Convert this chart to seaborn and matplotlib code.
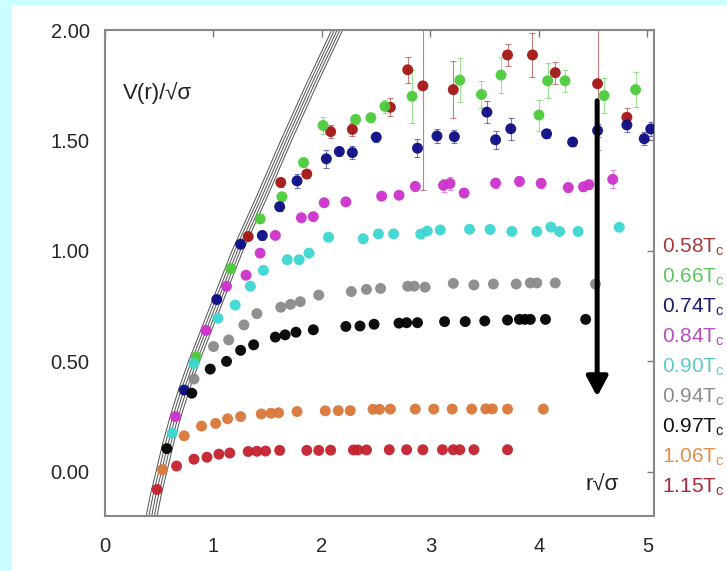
import matplotlib
matplotlib.use("Agg")
import matplotlib.pyplot as plt
from matplotlib.patches import Rectangle
import numpy as np
import pandas as pd
import seaborn as sns

# ---------------- data ----------------
temps = ["0.58", "0.66", "0.74", "0.84", "0.90", "0.94", "0.97", "1.06", "1.15"]

r_058 = [1.32, 1.62, 1.86, 2.08, 2.28, 2.63, 2.79, 2.93, 3.21, 3.71, 3.94, 4.15, 4.54, 4.81]
v_058 = [1.065, 1.31, 1.348, 1.54, 1.55, 1.65, 1.82, 1.747, 1.73, 1.887, 1.887, 1.807, 1.757, 1.605]
e_058 = [0.01, 0.02, 0.02, 0.03, 0.03, 0.04, 0.06, 0.47, 0.13, 0.05, 0.10, 0.05, 0.30, 0.04]

r_066 = [0.84, 1.16, 1.43, 1.63, 1.83, 2.01, 2.31, 2.45, 2.58, 2.83, 3.27, 3.47, 3.65, 4.00, 4.08, 4.24, 4.60, 4.89]
v_066 = [0.52, 0.92, 1.145, 1.245, 1.40, 1.568, 1.595, 1.603, 1.654, 1.70, 1.773, 1.708, 1.796, 1.615, 1.77, 1.77, 1.703, 1.73]
e_066 = [0.01, 0.01, 0.02, 0.02, 0.02, 0.04, 0.02, 0.02, 0.03, 0.12, 0.10, 0.06, 0.08, 0.07, 0.08, 0.05, 0.08, 0.08]

r_074 = [0.73, 1.03, 1.25, 1.45, 1.61, 1.77, 2.04, 2.16, 2.28, 2.50, 2.88, 3.06, 3.22, 3.52, 3.60, 3.74, 4.07, 4.31, 4.54, 4.81, 4.97, 5.03]
v_074 = [0.37, 0.78, 1.03, 1.07, 1.20, 1.317, 1.417, 1.45, 1.445, 1.515, 1.465, 1.52, 1.517, 1.628, 1.503, 1.553, 1.53, 1.493, 1.545, 1.57, 1.508, 1.552]
e_074 = [0.01, 0.01, 0.01, 0.02, 0.02, 0.03, 0.04, 0.02, 0.03, 0.02, 0.04, 0.03, 0.03, 0.05, 0.04, 0.05, 0.02, 0.02, 0.03, 0.03, 0.03, 0.03]

r_084 = [0.65, 0.93, 1.12, 1.30, 1.43, 1.57, 1.81, 1.92, 2.02, 2.22, 2.55, 2.71, 2.86, 3.12, 3.18, 3.31, 3.60, 3.82, 4.02, 4.27, 4.41, 4.46, 4.68]
v_084 = [0.25, 0.64, 0.84, 0.89, 0.99, 1.07, 1.15, 1.155, 1.218, 1.222, 1.248, 1.252, 1.292, 1.297, 1.305, 1.262, 1.307, 1.315, 1.306, 1.287, 1.29, 1.30, 1.324]
e_084 = [0.01, 0.01, 0.01, 0.01, 0.01, 0.01, 0.01, 0.01, 0.01, 0.01, 0.01, 0.01, 0.02, 0.03, 0.03, 0.02, 0.02, 0.02, 0.02, 0.02, 0.02, 0.02, 0.04]

r_090 = [0.62, 0.82, 1.04, 1.20, 1.34, 1.46, 1.68, 1.79, 1.88, 2.06, 2.38, 2.52, 2.66, 2.91, 2.97, 3.09, 3.36, 3.55, 3.75, 3.98, 4.11, 4.19, 4.36, 4.74]
v_090 = [0.175, 0.49, 0.695, 0.755, 0.84, 0.912, 0.96, 0.96, 0.99, 1.062, 1.055, 1.077, 1.077, 1.076, 1.09, 1.095, 1.098, 1.097, 1.088, 1.088, 1.108, 1.088, 1.088, 1.107]

r_094 = [0.82, 1.00, 1.14, 1.28, 1.40, 1.62, 1.71, 1.80, 1.97, 2.27, 2.41, 2.54, 2.79, 2.85, 2.95, 3.21, 3.40, 3.58, 3.79, 3.92, 3.98, 4.15, 4.52]
v_094 = [0.42, 0.567, 0.597, 0.665, 0.716, 0.745, 0.758, 0.77, 0.80, 0.816, 0.826, 0.83, 0.84, 0.84, 0.836, 0.853, 0.846, 0.85, 0.85, 0.855, 0.855, 0.855, 0.85]

r_097 = [0.57, 0.80, 0.97, 1.12, 1.25, 1.37, 1.57, 1.66, 1.76, 1.92, 2.22, 2.35, 2.48, 2.71, 2.78, 2.88, 3.13, 3.32, 3.50, 3.71, 3.82, 3.87, 3.92, 4.06, 4.43]
v_097 = [0.105, 0.356, 0.465, 0.50, 0.55, 0.575, 0.61, 0.62, 0.632, 0.643, 0.658, 0.66, 0.668, 0.673, 0.675, 0.675, 0.68, 0.68, 0.683, 0.687, 0.69, 0.69, 0.69, 0.69, 0.69]

r_106 = [0.53, 0.73, 0.89, 1.02, 1.13, 1.25, 1.44, 1.53, 1.60, 1.77, 2.03, 2.15, 2.26, 2.47, 2.53, 2.63, 2.86, 3.03, 3.20, 3.38, 3.51, 3.57, 3.71, 4.04]
v_106 = [0.01, 0.163, 0.207, 0.219, 0.24, 0.25, 0.262, 0.265, 0.267, 0.273, 0.276, 0.277, 0.277, 0.283, 0.283, 0.284, 0.284, 0.284, 0.284, 0.284, 0.285, 0.285, 0.284, 0.284]

r_115 = [0.48, 0.66, 0.82, 0.94, 1.05, 1.15, 1.32, 1.40, 1.48, 1.61, 1.86, 1.97, 2.08, 2.29, 2.33, 2.41, 2.62, 2.78, 2.93, 3.11, 3.21, 3.27, 3.40, 3.71]
v_115 = [-0.08, 0.026, 0.057, 0.066, 0.08, 0.085, 0.092, 0.093, 0.094, 0.097, 0.097, 0.097, 0.098, 0.099, 0.099, 0.099, 0.10, 0.10, 0.10, 0.10, 0.10, 0.10, 0.10, 0.10]

# zero-temperature potential band (centre line)
band_r = [0.43, 0.47, 0.52, 0.58, 0.65, 0.73, 0.82, 1.02, 1.22, 1.45, 1.67, 1.90, 2.14]
band_v = [-0.20, -0.10, 0.00, 0.125, 0.25, 0.375, 0.50, 0.75, 1.00, 1.25, 1.50, 1.75, 2.00]

x_ticks = [0, 1, 2, 3, 4, 5]
y_ticks = [0.0, 0.5, 1.0, 1.5, 2.0]

colors = {"0.58": "#a51616", "0.66": "#4ccc3c", "0.74": "#0c0c84", "0.84": "#cc33cc",
          "0.90": "#3cd6d0", "0.94": "#8a8a8a", "0.97": "#000000", "1.06": "#d9773a",
          "1.15": "#c4202e"}
label_colors = {"0.58": "#a83a3a", "0.66": "#5cc85c", "0.74": "#1a1a70", "0.84": "#b84cc0",
                "0.90": "#5ccaca", "0.94": "#8c8c8c", "0.97": "#111111", "1.06": "#e0904a",
                "1.15": "#a82838"}

series = {"0.58": (r_058, v_058), "0.66": (r_066, v_066), "0.74": (r_074, v_074),
          "0.84": (r_084, v_084), "0.90": (r_090, v_090), "0.94": (r_094, v_094),
          "0.97": (r_097, v_097), "1.06": (r_106, v_106), "1.15": (r_115, v_115)}
errors = {"0.58": e_058, "0.66": e_066, "0.74": e_074, "0.84": e_084}

rows = []
for t in temps:
    rr, vv = series[t]
    for a, b in zip(rr, vv):
        rows.append({"r": a, "V": b, "T": t})
df = pd.DataFrame(rows)

# ---------------- figure ----------------
sns.set_style("white")
plt.rcParams["font.family"] = ["Liberation Sans", "DejaVu Sans"]

fig = plt.figure(figsize=(7.27, 5.71), dpi=100)
fig.patch.set_facecolor("white")
fig.patches.append(Rectangle((0, 0), 12 / 727, 1, transform=fig.transFigure,
                             facecolor="#ccffff", edgecolor="none", zorder=0))
fig.patches.append(Rectangle((0, 1 - 5 / 571), 1, 5 / 571, transform=fig.transFigure,
                             facecolor="#ccffff", edgecolor="none", zorder=0))

ax = fig.add_axes([105 / 727, 1 - 516 / 571, 549 / 727, 486 / 571])
ax.set_facecolor("white")

# band of lines
offs = [-0.05, -0.025, 0.0, 0.025, 0.05]
for o in offs:
    ax.plot(np.array(band_r) + o, band_v, color="#505050", lw=0.7, zorder=1)

# error bars
for t, e in errors.items():
    rr, vv = series[t]
    ax.errorbar(rr, vv, yerr=e, fmt="none", ecolor=colors[t], elinewidth=0.8,
                capsize=2.0, capthick=0.8, alpha=0.55, zorder=2)

sns.scatterplot(data=df, x="r", y="V", hue="T", hue_order=temps, palette=colors,
                s=62, linewidth=0, alpha=0.95, legend=False, ax=ax, zorder=3)

# arrow
ax.annotate("", xy=(4.536, 0.34), xytext=(4.536, 1.68),
            arrowprops=dict(arrowstyle="-|>,head_length=0.6,head_width=0.32",
                            lw=3.6, color="black", mutation_scale=20,
                            shrinkA=0, shrinkB=0), zorder=5)

ax.set_xlim(0, 5.06)
ax.set_ylim(-0.2, 2.0)
ax.set_xticks(x_ticks)
ax.set_xticklabels([str(v) for v in x_ticks])
ax.set_yticks(y_ticks)
ax.set_yticklabels([f"{v:.2f}" for v in y_ticks])
ax.set_xlabel("")
ax.set_ylabel("")
ax.tick_params(direction="in", length=5, width=1, color="#777777",
               top=True, right=True, labelsize=14.5, pad=11)
ax.tick_params(axis="x", pad=15)
for s in ax.spines.values():
    s.set_color("#888888")
    s.set_linewidth(1.5)
    s.set_visible(True)

ax.text(0.168, 1.715, "V(r)/\u221a\u03c3", fontsize=16, color="#222222",
        ha="left", va="center")
ax.text(4.43, -0.06, "r\u221a\u03c3", fontsize=16, color="#222222",
        ha="left", va="center")

# temperature labels at the right
for i, t in enumerate(temps):
    ypx = 247 + 30 * i
    fig.text(662 / 727, 1 - ypx / 571, t + "T$_\\mathregular{c}$", fontsize=15,
             color=label_colors[t], ha="left", va="center")

fig.savefig("out.png", dpi=100, facecolor=fig.get_facecolor())
